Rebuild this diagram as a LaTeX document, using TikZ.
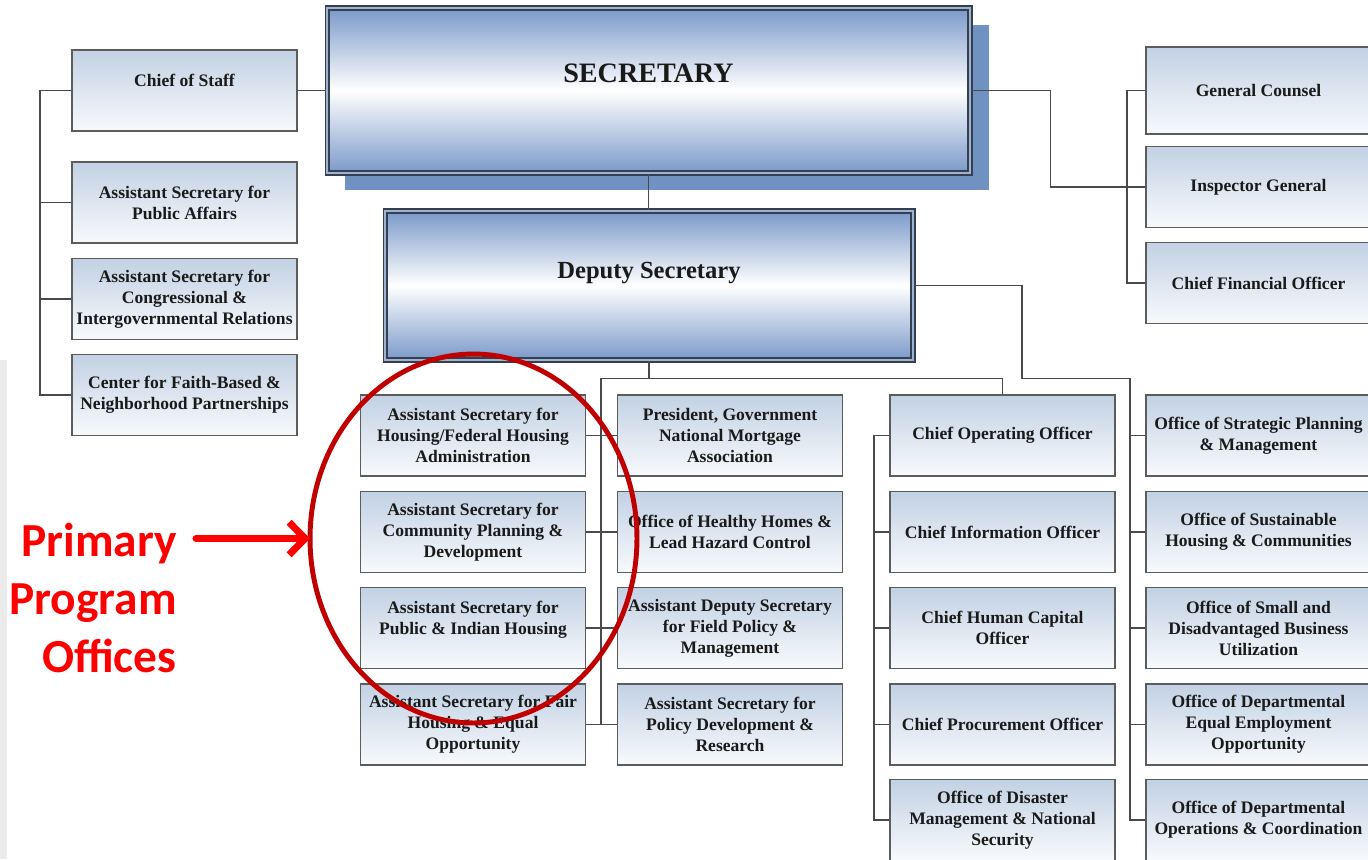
\documentclass[tikz,border=0pt]{standalone}
\usepackage{fontspec}
\setmainfont{Liberation Serif}
\newfontfamily\callout{Carlito}
\usepackage{xcolor}
\usetikzlibrary{arrows.meta, shapes.geometric}
\definecolor{boxtop}{HTML}{C2D1E4}
\definecolor{boxbot}{HTML}{F8FAFC}
\definecolor{boxln}{HTML}{5C5C5C}
\definecolor{lnc}{HTML}{4A4A4A}
\definecolor{txt}{HTML}{1A1A1A}
\definecolor{leadblue}{HTML}{7A99C9}
\definecolor{leadln}{HTML}{343F50}
\definecolor{leaddbl}{HTML}{9FB3D0}
\definecolor{shadowblue}{HTML}{6F92C3}
\definecolor{callred}{HTML}{FF0000}
\definecolor{ringred}{HTML}{C00000}
\definecolor{stripgray}{HTML}{EBEBEB}

\begin{document}
\begin{tikzpicture}[x=0.02cm, y=-0.02cm,
    every node/.style={font=\bfseries\fontsize{10}{12}\selectfont, text=txt},
    ob/.style={draw=boxln, line width=0.9pt, top color=boxtop, bottom color=boxbot, align=center, inner sep=1pt, minimum width=4.5cm, minimum height=1.62cm},
    lead/.style={draw=leadln, double=leaddbl, double distance=1.5pt, line width=0.7pt, top color=leadblue, bottom color=leadblue, middle color=white, align=center},
    ln/.style={draw=lnc, line width=0.9pt},
    ring/.style={ellipse, draw=ringred, line width=2.8pt, minimum width=6.54cm, minimum height=7.38cm, inner sep=0pt, outer sep=0pt},
    a/.style={-{Straight Barb[length=3.2mm, width=6.5mm]}, line width=4pt, draw=callred, line cap=round}
]
\useasboundingbox (0,0) rectangle (1368,859);
\fill[white] (0,0) rectangle (1368,859);
\clip (0,0) rectangle (1368,859);
\fill[stripgray] (0,360) rectangle (7,859);

\fill[shadowblue] (345,25) rectangle (989,190);
\node[lead, minimum width=12.86cm, minimum height=3.3cm, font=\bfseries\fontsize{16}{20}\selectfont] (sec) at (648.5,90.5) {SECRETARY\\\mbox{}};
\node[lead, minimum width=10.56cm, minimum height=2.98cm, font=\bfseries\fontsize{14}{17}\selectfont] (dep) at (649,285.5) {Deputy Secretary\\\mbox{}};

\node[ob] (cos) at (184.5,90.5) {Chief of Staff\\\mbox{}};
\node[ob] (pa) at (184.5,202.5) {Assistant Secretary for\\Public Affairs};
\node[ob] (cir) at (184.5,299) {Assistant Secretary for\\Congressional \&\\Intergovernmental Relations};
\node[ob] (fbnp) at (184.5,395) {Center for Faith-Based \&\\Neighborhood Partnerships};

\node[ob, minimum height=1.74cm] (gc) at (1258.5,90.5) {General Counsel};
\node[ob] (ig) at (1258.5,187) {Inspector General};
\node[ob] (cfo) at (1258.5,283) {Chief Financial Officer};

\node[ob] (hfha) at (473,435.5) {Assistant Secretary for\\Housing/Federal Housing\\Administration};
\node[ob] (cpd) at (473,532) {Assistant Secretary for\\Community Planning \&\\Development};
\node[ob] (pih) at (473,628) {Assistant Secretary for\\Public \& Indian Housing\\\mbox{}};
\node[ob] (fheo) at (473,724.5) {Assistant Secretary for Fair\\Housing \& Equal\\Opportunity};

\node[ob] (gnma) at (730,435.5) {President, Government\\National Mortgage\\Association};
\node[ob] (hhlh) at (730,532) {Office of Healthy Homes \&\\Lead Hazard Control};
\node[ob] (adsf) at (730,628) {Assistant Deputy Secretary\\for Field Policy \&\\Management};
\node[ob] (pdr) at (730,724.5) {Assistant Secretary for\\Policy Development \&\\Research};

\node[ob] (coo) at (1002.5,435.5) {Chief Operating Officer};
\node[ob] (cio) at (1002.5,532) {Chief Information Officer};
\node[ob] (chco) at (1002.5,628) {Chief Human Capital\\Officer};
\node[ob] (cpo) at (1002.5,724.5) {Chief Procurement Officer};
\node[ob] (odmn) at (1002.5,820) {Office of Disaster\\Management \& National\\Security};

\node[ob] (ospm) at (1258.5,435.5) {Office of Strategic Planning\\\& Management};
\node[ob] (oshc) at (1258.5,532) {Office of Sustainable\\Housing \& Communities};
\node[ob] (osdbu) at (1258.5,628) {Office of Small and\\Disadvantaged Business\\Utilization};
\node[ob] (odeeo) at (1258.5,724.5) {Office of Departmental\\Equal Employment\\Opportunity};
\node[ob] (odoc) at (1258.5,820) {Office of Departmental\\Operations \& Coordination};

\coordinate (lb) at (40,90.5);
\coordinate (rb) at (1127,90.5);
\coordinate (mb) at (601,378.5);
\coordinate (cb) at (874,435.5);
\coordinate (db) at (1130,378.5);

\draw[ln] (cos.east) -- (cos.east -| sec.west);
\draw[ln] (cos.west) -- (lb) |- (fbnp.west);
\draw[ln] (pa.west) -- (pa.west -| lb);
\draw[ln] (cir.west) -- (cir.west -| lb);
\draw[ln] (sec.south) -- (sec.south |- dep.north);
\draw[ln] (sec.east) -- ++(80,0) |- (ig.west);
\draw[ln] (gc.west) -- (rb) |- (cfo.west);
\draw[ln] (dep.south) -- (dep.south |- mb);
\draw[ln] (fheo.east -| mb) -- (mb) -| (coo.north);
\draw[ln] (hfha.east) -- (gnma.west);
\draw[ln] (cpd.east) -- (hhlh.west);
\draw[ln] (pih.east) -- (adsf.west);
\draw[ln] (fheo.east) -- (pdr.west);
\draw[ln] (dep.east) -| (1022,378.5) -- (db) |- (odoc.west);
\draw[ln] (ospm.west) -- (ospm.west -| db);
\draw[ln] (oshc.west) -- (oshc.west -| db);
\draw[ln] (osdbu.west) -- (osdbu.west -| db);
\draw[ln] (odeeo.west) -- (odeeo.west -| db);
\draw[ln] (coo.west) -- (cb) |- (odmn.west);
\draw[ln] (cio.west) -- (cio.west -| cb);
\draw[ln] (chco.west) -- (chco.west -| cb);
\draw[ln] (cpo.west) -- (cpo.west -| cb);

\node[ring] (circ) at (473.5,538.5) {};
\node[font=\callout\bfseries\fontsize{27}{33}\selectfont, text=callred, align=right, anchor=east, inner sep=0pt] (ppo) at (177,598) {Primary\\Program\\Offices};
\draw[a] (ppo.east |- circ.west) ++(19,0) -- (circ.west);
\end{tikzpicture}
\end{document}
